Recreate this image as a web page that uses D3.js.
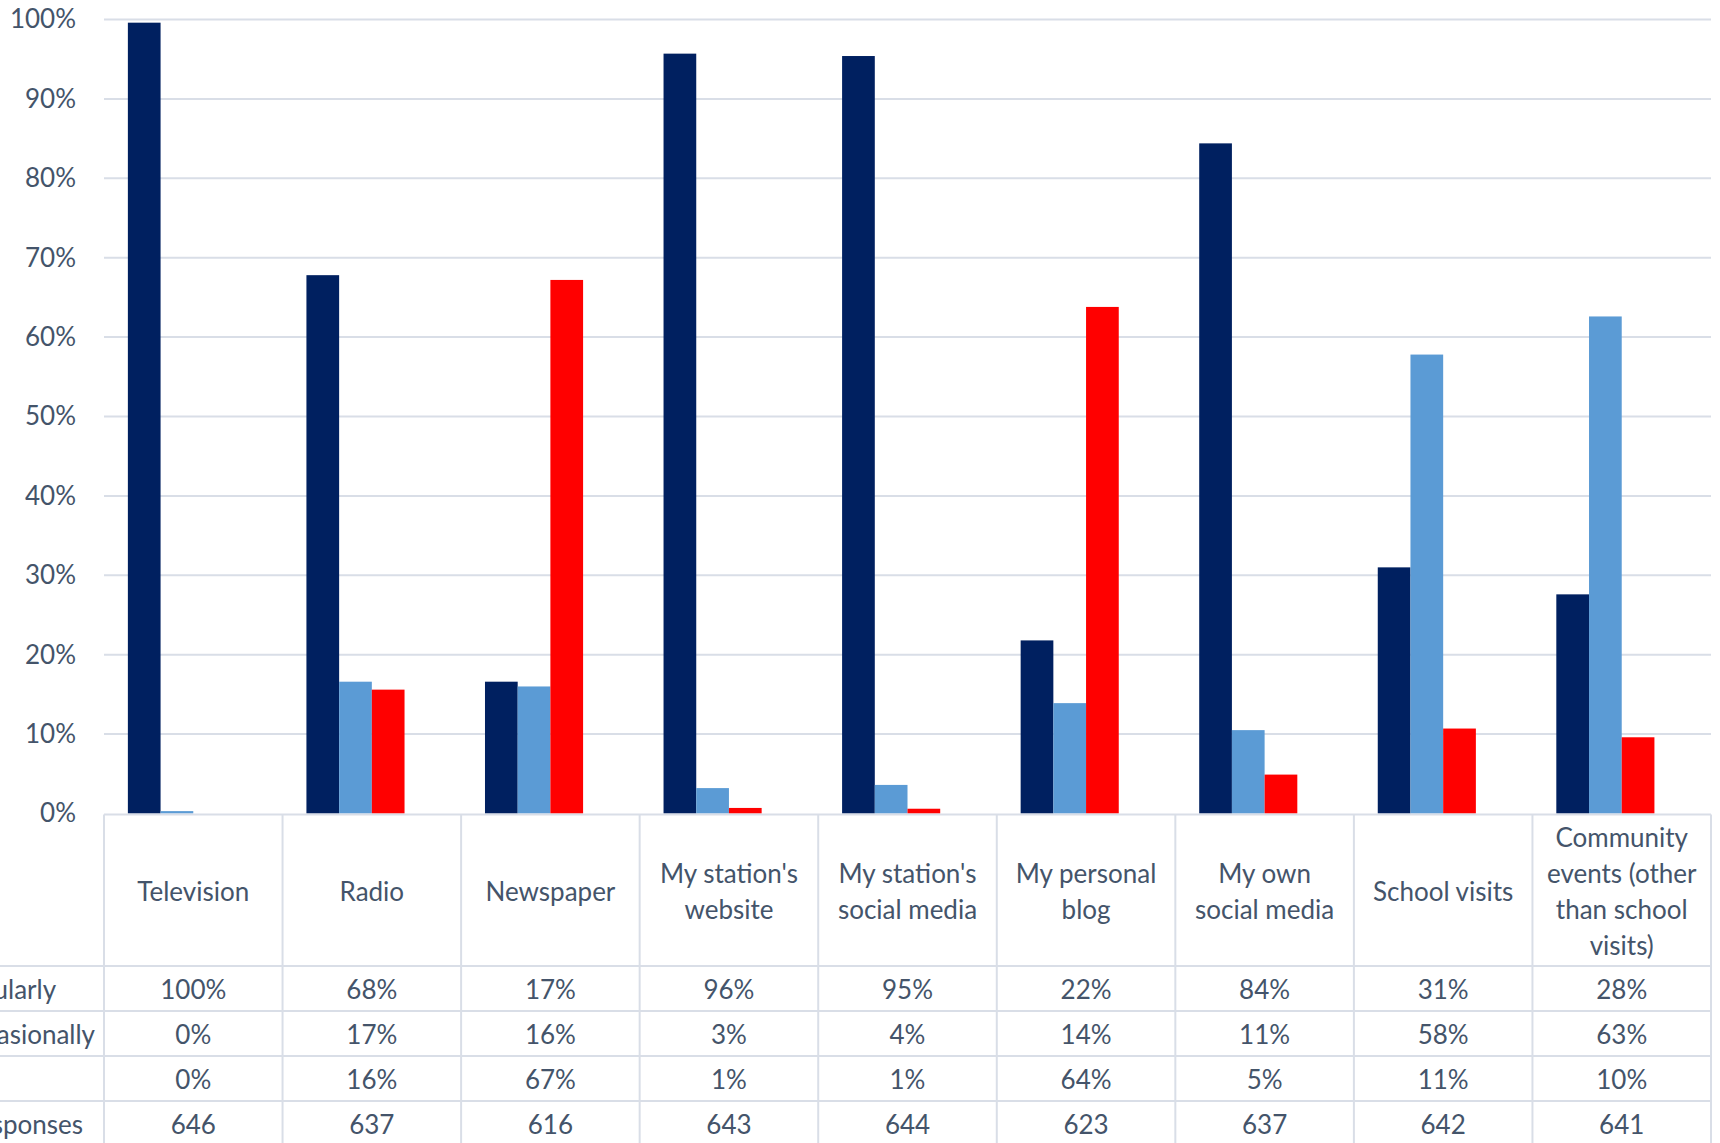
<!DOCTYPE html>
<html>
<head>
<meta charset="utf-8">
<script src="https://cdn.jsdelivr.net/npm/d3@7"></script>
<style>
  html, body { margin: 0; padding: 0; background: #ffffff; }
  svg { display: block; font-family: Lato, "Open Sans", sans-serif; }
</style>
</head>
<body>
<svg id="chart" width="1720" height="1143"></svg>
<script>
// ---------- data ----------
const categories = [
  ["Television"],
  ["Radio"],
  ["Newspaper"],
  ["My station's", "website"],
  ["My station's", "social media"],
  ["My personal", "blog"],
  ["My own", "social media"],
  ["School visits"],
  ["Community", "events (other", "than school", "visits)"]
];
const seriesNames = ["Use regularly", "Use occasionally", "Never", "Total responses"];
const regularly    = [0.996, 0.678, 0.166, 0.957, 0.954, 0.218, 0.844, 0.310, 0.276];
const occasionally = [0.003, 0.166, 0.160, 0.032, 0.036, 0.139, 0.105, 0.578, 0.626];
const never        = [0.000, 0.156, 0.672, 0.007, 0.006, 0.638, 0.049, 0.107, 0.096];
const responses    = [646, 637, 616, 643, 644, 623, 637, 642, 641];
const yTicks       = [0, 0.1, 0.2, 0.3, 0.4, 0.5, 0.6, 0.7, 0.8, 0.9, 1.0];
const seriesColors = ["#002060", "#5B9BD5", "#FF0000", "none"];

// ---------- layout ----------
const svg = d3.select("#chart");
const plotLeft = 104, plotRight = 1711, plotTop = 19.5, plotBase = 813.5;
const rowH = 45, headerBottom = 966;
const textColor = "#44546A";
const lineColor = "#D9DEE7";
const fontSize = 26;

const keys = categories.map(c => c.join(" "));
const x = d3.scaleBand().domain(keys).range([plotLeft, plotRight]).paddingInner(0).paddingOuter(0);
const xs = d3.scaleBand().domain(seriesNames).range([0, x.bandwidth()]).paddingInner(0).paddingOuter(0.73);
const y = d3.scaleLinear().domain([0, 1]).range([plotBase, plotTop]);

// gridlines
svg.append("g").selectAll("line").data(yTicks.filter(d => d > 0)).join("line")
  .attr("x1", plotLeft).attr("x2", plotRight)
  .attr("y1", d => y(d)).attr("y2", d => y(d))
  .attr("stroke", lineColor).attr("stroke-width", 2);

// y axis labels
const yAxis = d3.axisLeft(y).tickValues(yTicks).tickFormat(d3.format(".0%")).tickSize(0).tickPadding(0);
const ya = svg.append("g").attr("transform", "translate(76,0)").call(yAxis);
ya.select(".domain").remove();
ya.selectAll("text").attr("font-size", fontSize).attr("fill", textColor)
  .attr("font-family", "Lato, sans-serif");

// bars
const seriesValues = [regularly, occasionally, never];
const barG = svg.append("g");
seriesValues.forEach((vals, s) => {
  barG.append("g").selectAll("rect").data(vals).join("rect")
    .attr("x", (d, i) => x(keys[i]) + xs(seriesNames[s]))
    .attr("width", xs.bandwidth())
    .attr("y", d => y(d))
    .attr("height", d => plotBase - y(d))
    .attr("fill", seriesColors[s]);
});

// ---------- data table ----------
const tableRows = [
  regularly.map(v => d3.format(".0%")(v)),
  occasionally.map(v => d3.format(".0%")(v)),
  never.map(v => d3.format(".0%")(v)),
  responses.map(v => String(v))
];
const tg = svg.append("g");
tg.append("line").attr("x1", plotLeft).attr("x2", plotRight).attr("y1", plotBase + 1).attr("y2", plotBase + 1)
  .attr("stroke", lineColor).attr("stroke-width", 2);
d3.range(tableRows.length + 1).forEach(r => {
  const yy = headerBottom + r * rowH;
  tg.append("line").attr("x1", 0).attr("x2", plotRight).attr("y1", yy).attr("y2", yy)
    .attr("stroke", lineColor).attr("stroke-width", 2);
});
const bounds = keys.map(k => x(k)).concat([plotRight]);
tg.selectAll("line.v").data(bounds).join("line").attr("class", "v")
  .attr("x1", d => d).attr("x2", d => d)
  .attr("y1", plotBase + 1).attr("y2", 1143)
  .attr("stroke", lineColor).attr("stroke-width", 2);

// header labels (categories)
const lineH = 36;
const headerMid = (plotBase + headerBottom) / 2 + 1;
categories.forEach((lines, i) => {
  const cx = x(keys[i]) + x.bandwidth() / 2;
  const t = tg.append("text").attr("text-anchor", "middle").attr("font-size", fontSize)
    .attr("fill", textColor);
  lines.forEach((ln, j) => {
    t.append("tspan").attr("x", cx)
      .attr("y", headerMid + (j - (lines.length - 1) / 2) * lineH)
      .attr("dominant-baseline", "central")
      .text(ln);
  });
});

// cell values
tableRows.forEach((row, r) => {
  const cy = headerBottom + r * rowH + rowH / 2;
  tg.append("g").selectAll("text").data(row).join("text")
    .attr("x", (d, i) => x(keys[i]) + x.bandwidth() / 2)
    .attr("y", cy)
    .attr("text-anchor", "middle").attr("dominant-baseline", "central")
    .attr("font-size", fontSize).attr("fill", textColor)
    .text(d => d);
});

// row labels (left-aligned, partially cut off by the page edge as in the original)
const labels = tg.append("g").selectAll("text").data(seriesNames).join("text")
  .attr("y", (d, r) => headerBottom + r * rowH + rowH / 2)
  .attr("dominant-baseline", "central")
  .attr("font-size", fontSize).attr("fill", textColor)
  .text(d => d);
const refW = labels.filter((d, i) => i === 1).node().getComputedTextLength();
labels.attr("x", 95 - refW);
</script>
</body>
</html>
